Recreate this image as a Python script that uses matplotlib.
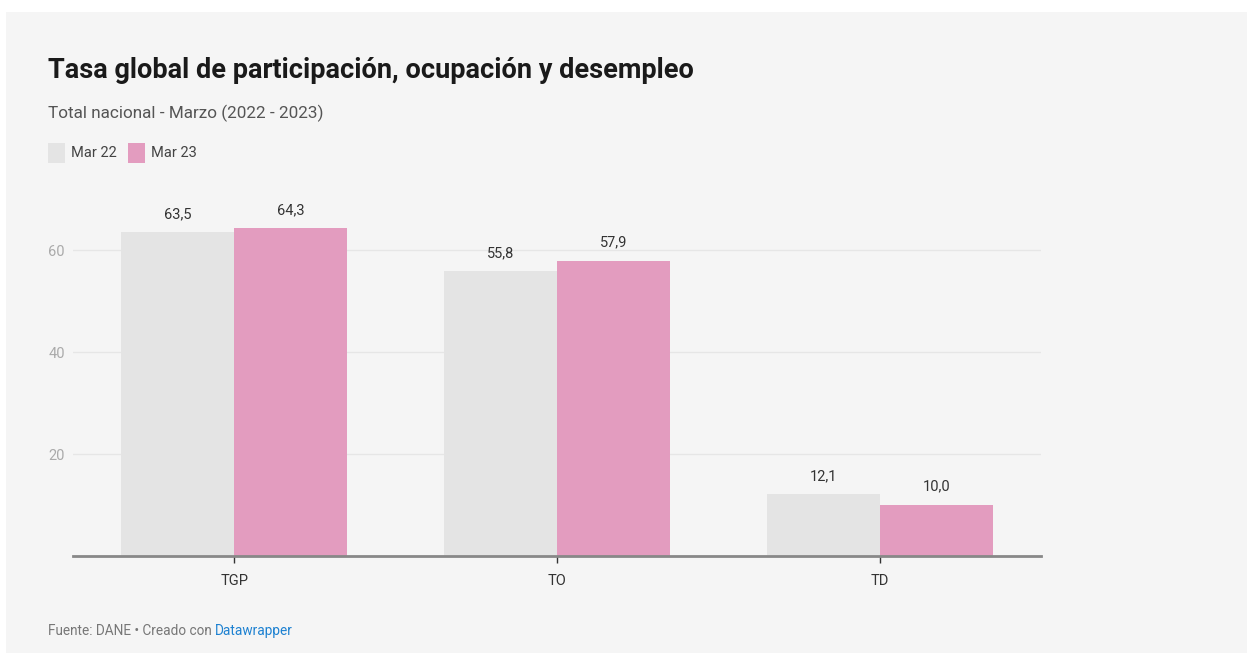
import numpy as np
import matplotlib.pyplot as plt
from matplotlib.patches import Rectangle

categorias = ["TGP", "TO", "TD"]
mar_22 = [63.5, 55.8, 12.1]
mar_23 = [64.3, 57.9, 10.0]
series = ["Mar 22", "Mar 23"]
colores = ["#e4e4e4", "#e39cbf"]

plt.rcParams["font.family"] = ["Roboto", "DejaVu Sans"]

fig = plt.figure(figsize=(12.47, 6.53), dpi=100)
fig.patch.set_facecolor("white")

# panel gris de fondo
fig.patches.append(Rectangle((6 / 1247, 0), 1 - 6 / 1247, 1 - 12 / 653,
                             transform=fig.transFigure, facecolor="#f5f5f5",
                             edgecolor="none", zorder=-10))

ax = fig.add_axes([73 / 1247, 97 / 653, (1041 - 73) / 1247, 357 / 653])
ax.set_facecolor("none")

x = np.arange(len(categorias))
ancho = 0.35
b1 = ax.bar(x - ancho / 2, mar_22, ancho, color=colores[0], zorder=2)
b2 = ax.bar(x + ancho / 2, mar_23, ancho, color=colores[1], zorder=2)

for barras in (b1, b2):
    for b in barras:
        v = b.get_height()
        ax.text(b.get_x() + b.get_width() / 2, v + 2.2, f"{v:.1f}".replace(".", ","),
                ha="center", va="bottom", fontsize=10.5, color="#333333")

ax.set_xlim(-0.5, 2.5)
ax.set_ylim(0, 70)
ax.set_yticks([20, 40, 60])
ax.grid(axis="y", color="#e6e6e6", linewidth=1, zorder=0)
ax.tick_params(axis="y", length=0, labelsize=10.5, labelcolor="#aaaaaa", pad=6)
ax.set_xticks(x)
ax.set_xticklabels(categorias)
ax.tick_params(axis="x", length=5, width=1, color="#333333", labelsize=10.5,
               labelcolor="#333333", pad=8)
for s in ["top", "right", "left"]:
    ax.spines[s].set_visible(False)
ax.spines["bottom"].set_color("#888888")
ax.spines["bottom"].set_linewidth(2)
ax.spines["bottom"].set_zorder(3)

# titulo y subtitulo
fig.text(48 / 1247, 1 - 70 / 653, "Tasa global de participación, ocupación y desempleo",
         fontsize=19.5, fontweight="bold", color="#1a1a1a", va="center")
fig.text(48 / 1247, 1 - 113 / 653, "Total nacional - Marzo (2022 - 2023)",
         fontsize=12.3, color="#555555", va="center")

# leyenda
xs = [48, 128]
for xi, nombre, c in zip(xs, series, colores):
    fig.patches.append(Rectangle((xi / 1247, 1 - 163 / 653), 17 / 1247, 20 / 653,
                                 transform=fig.transFigure, facecolor=c, edgecolor="none"))
    fig.text((xi + 23) / 1247, 1 - 153 / 653, nombre, fontsize=10.5,
             color="#444444", va="center")

# pie
t = fig.text(48 / 1247, 1 - 631 / 653, "Fuente: DANE • Creado con ", fontsize=9.8,
             color="#777777", va="center")
fig.canvas.draw()
bb = t.get_window_extent()
fig.text(bb.x1 / 1247, 1 - 631 / 653, "Datawrapper", fontsize=9.8,
         color="#1d81d1", va="center")

fig.savefig("out.png", dpi=100)
